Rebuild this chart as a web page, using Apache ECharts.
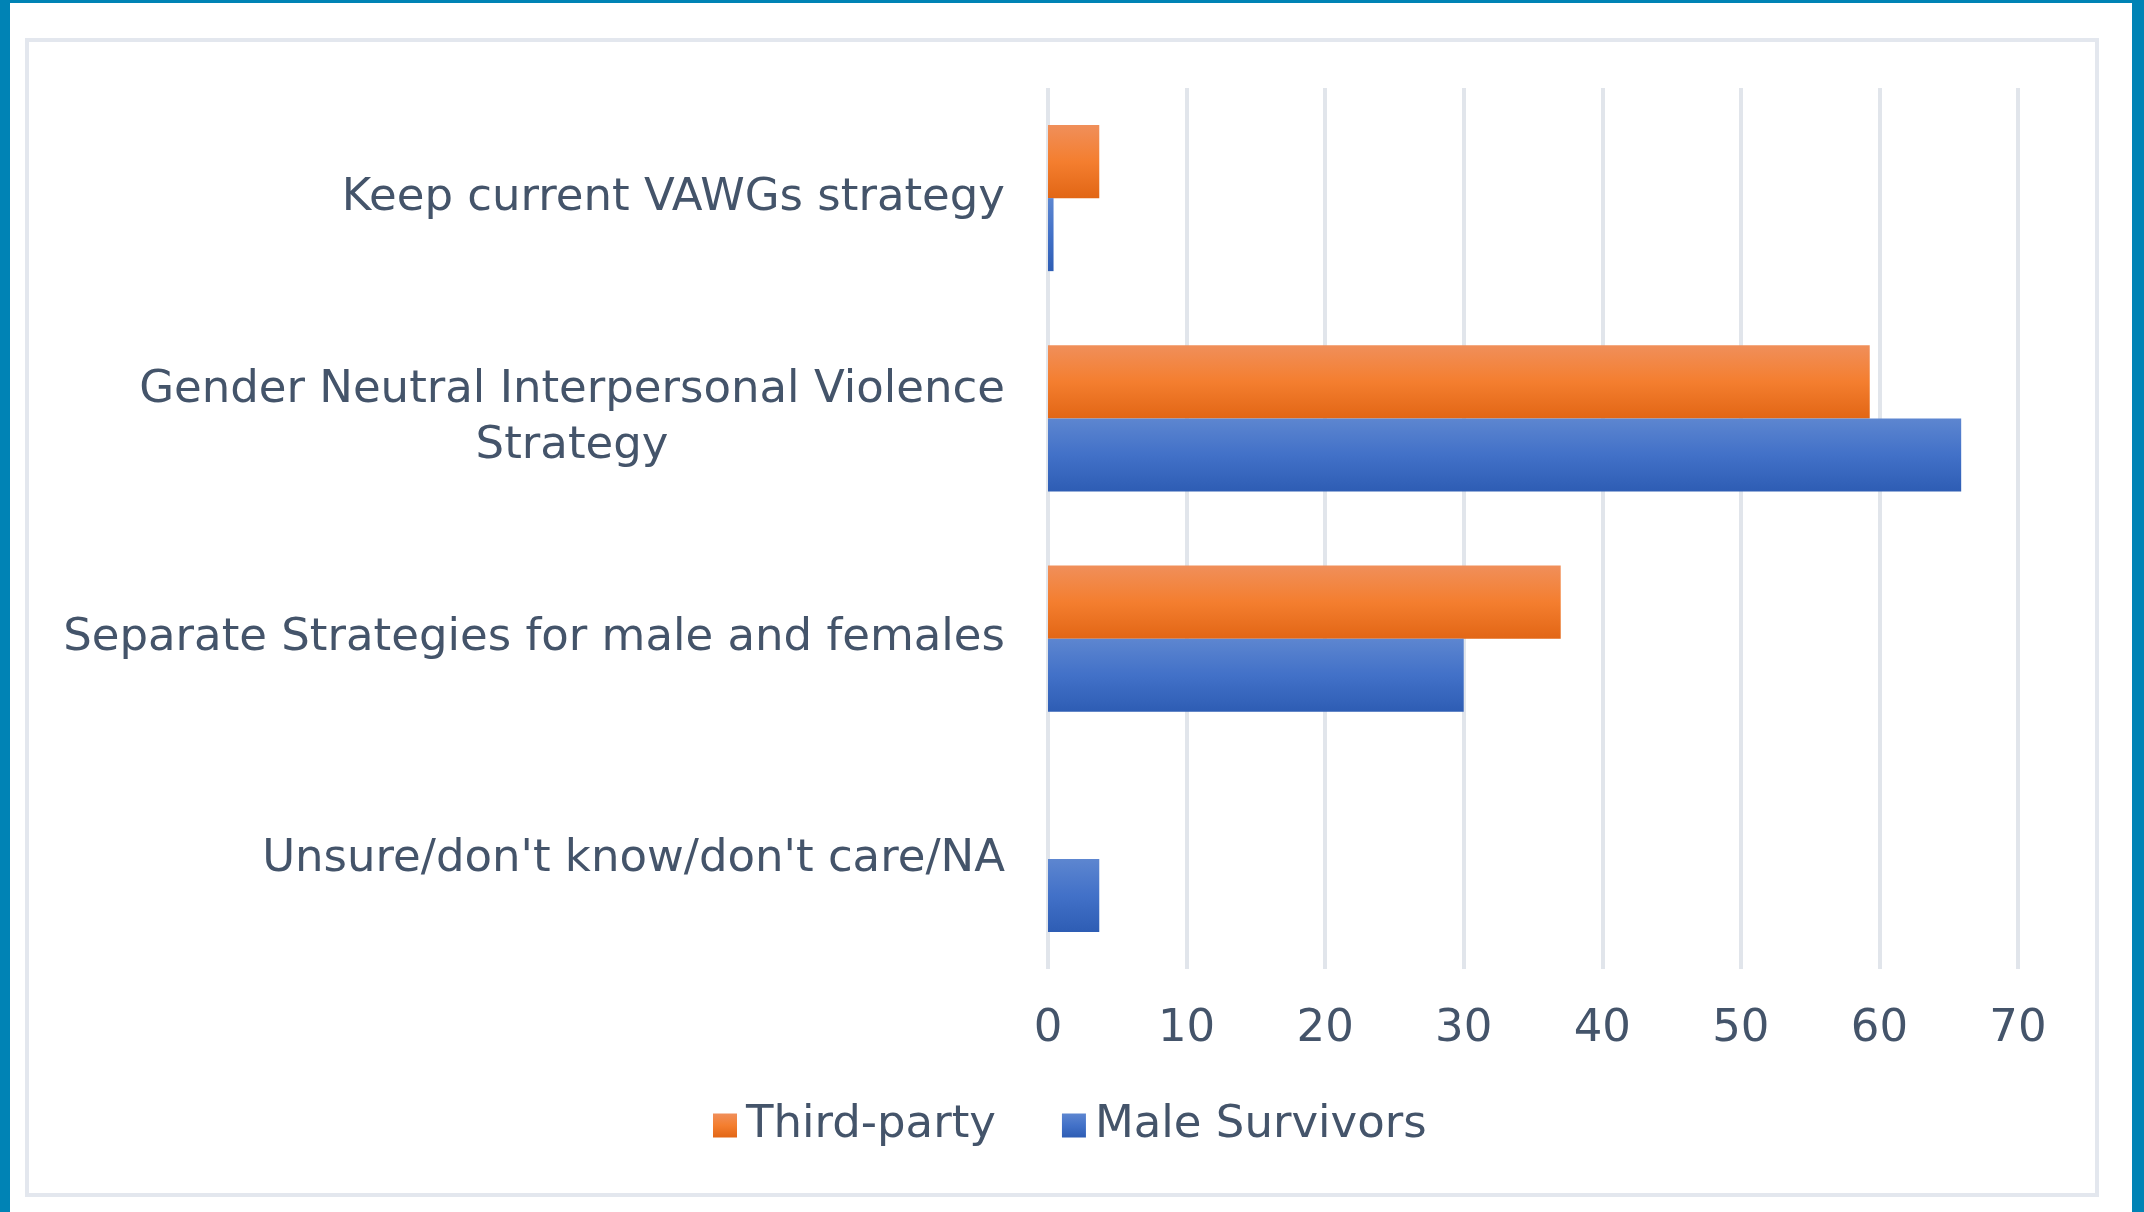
<!DOCTYPE html>
<html>
<head>
<meta charset="utf-8">
<script src="https://cdn.jsdelivr.net/npm/echarts@6/dist/echarts.min.js"></script>
<style>
  html, body { margin: 0; padding: 0; background: #ffffff; }
  #wrap { position: relative; width: 2144px; height: 1212px; overflow: hidden; background: #fff; }
  #blueL { position: absolute; left: 0; top: 0; width: 10px; height: 1212px; background: #0083b5; }
  #blueT { position: absolute; left: 0; top: 0; width: 2144px; height: 3px; background: #0083b5; }
  #blueR { position: absolute; right: 0; top: 0; width: 12px; height: 1212px; background: #0083b5; }
  #frame { position: absolute; left: 25px; top: 38px; width: 2066px; height: 1151px; border: 4px solid #e3e7ee; }
  #chart { position: absolute; left: 0; top: 0; width: 2144px; height: 1212px; }
</style>
</head>
<body>
<div id="wrap">
  <div id="blueL"></div><div id="blueT"></div><div id="blueR"></div>
  <div id="frame"></div>
  <div id="chart"></div>
</div>
<script>
const categories = [
  'Keep current VAWGs strategy',
  'Gender Neutral Interpersonal Violence\nStrategy',
  'Separate Strategies for male and females',
  "Unsure/don't know/don't care/NA"
];
const seriesNames = ['Third-party', 'Male Survivors'];
const thirdParty = [3.7, 59.3, 37.0, 0];
const maleSurvivors = [0.4, 65.9, 30.0, 3.7];
const xTicks = { min: 0, max: 70, interval: 10 };

const FONT = 'DejaVu Sans';
const FS = 45;
const TEXT = '#44546a';

// measure widest line of multi-line labels to center their lines
const cv = document.createElement('canvas').getContext('2d');
cv.font = FS + 'px "' + FONT + '"';
function lineWidth(s) { return Math.ceil(cv.measureText(s).width); }

const chart = echarts.init(document.getElementById('chart'), null, { renderer: 'canvas' });

const orangeGrad = new echarts.graphic.LinearGradient(0, 0, 0, 1, [
  { offset: 0, color: '#f08f5a' },
  { offset: 0.5, color: '#f47e2f' },
  { offset: 1, color: '#e26615' }
]);
const blueGrad = new echarts.graphic.LinearGradient(0, 0, 0, 1, [
  { offset: 0, color: '#5d86d0' },
  { offset: 0.5, color: '#4271c8' },
  { offset: 1, color: '#2e5db4' }
]);

chart.setOption({
  animation: false,
  backgroundColor: 'transparent',
  textStyle: { fontFamily: FONT, color: TEXT },
  grid: { left: 1048, right: 126, top: 88, bottom: 243, containLabel: false },
  legend: {
    data: seriesNames,
    left: 708,
    top: 1098,
    itemWidth: 24,
    itemHeight: 24,
    itemGap: 66,
    icon: 'rect',
    textStyle: { fontFamily: FONT, fontSize: FS, color: TEXT, padding: [0, 0, 0, 4] }
  },
  xAxis: {
    type: 'value',
    min: xTicks.min, max: xTicks.max, interval: xTicks.interval,
    axisLine: { show: false },
    axisTick: { show: false },
    splitLine: { show: true, lineStyle: { color: '#e1e5eb', width: 4 } },
    axisLabel: { fontFamily: FONT, fontSize: FS, color: TEXT, margin: 38 }
  },
  yAxis: {
    type: 'category',
    data: categories,
    inverse: true,
    axisLine: { show: false },
    axisTick: { show: false },
    axisLabel: {
      margin: 43,
      fontFamily: FONT, fontSize: FS, color: TEXT,
      lineHeight: 56,
      formatter: function (v) {
        const lines = v.split('\n');
        if (lines.length === 1) return v;
        return lines.map(l => '{c|' + l + '}').join('\n');
      },
      rich: {
        c: {
          fontFamily: FONT, fontSize: FS, color: TEXT, lineHeight: 56,
          width: lineWidth('Gender Neutral Interpersonal Violence'),
          align: 'center'
        }
      }
    }
  },
  series: [
    {
      name: seriesNames[0], type: 'bar', data: thirdParty,
      barGap: '0%', barCategoryGap: '33.7%',
      itemStyle: { color: orangeGrad, borderWidth: 0 }
    },
    {
      name: seriesNames[1], type: 'bar', data: maleSurvivors,
      barGap: '0%', barCategoryGap: '33.7%',
      itemStyle: { color: blueGrad, borderWidth: 0 }
    }
  ]
});
</script>
</body>
</html>
